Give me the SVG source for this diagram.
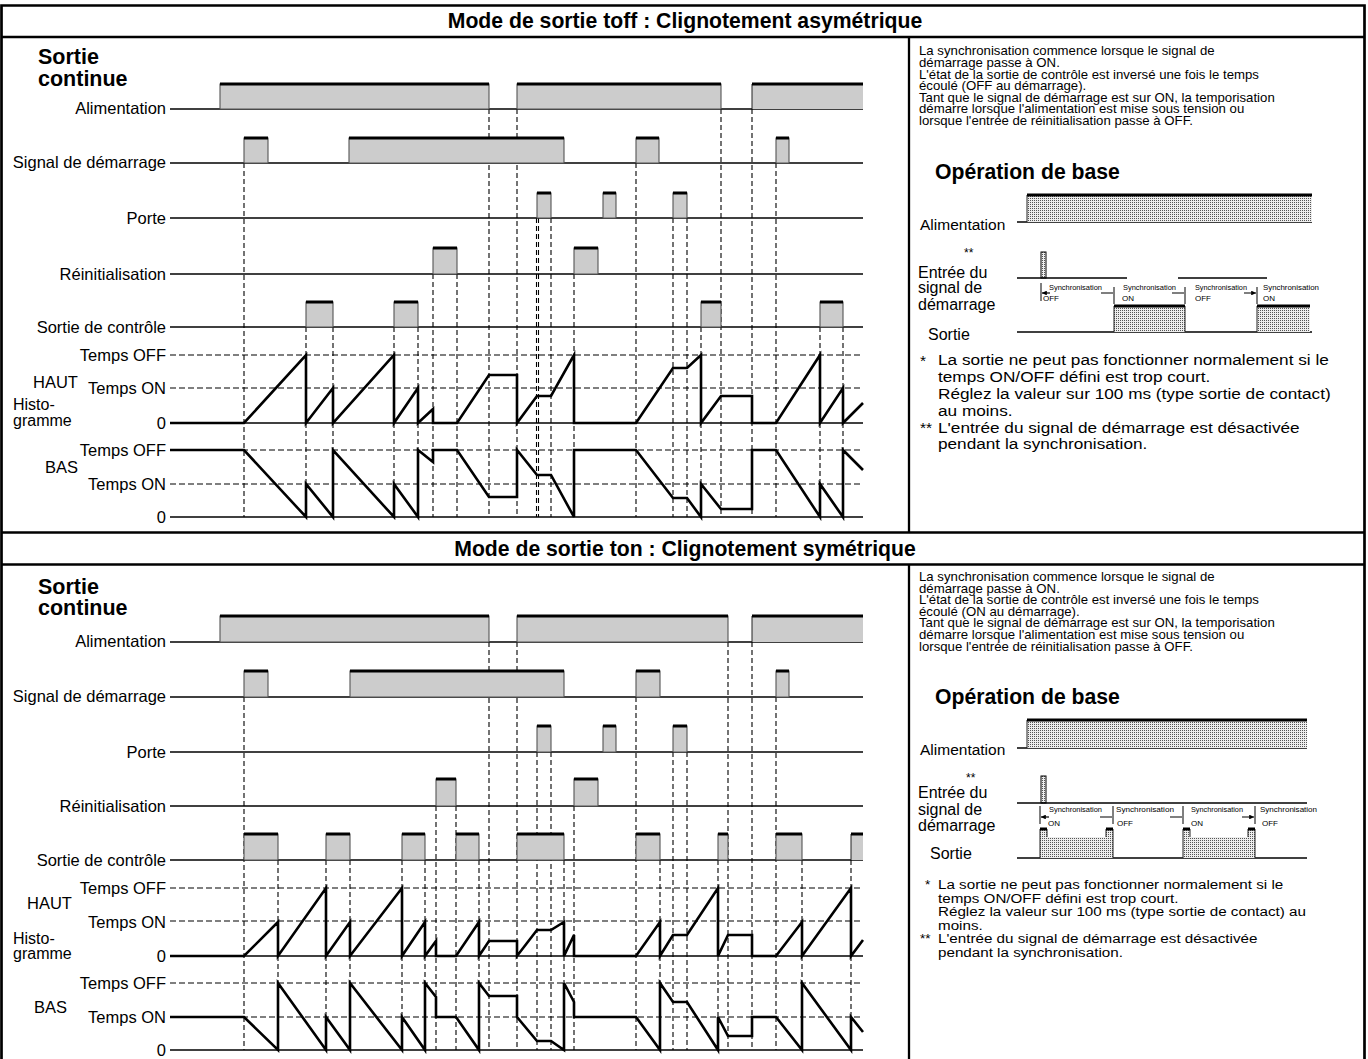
<svg xmlns="http://www.w3.org/2000/svg" width="1368" height="1059" viewBox="0 0 1368 1059">
<defs>
<style>
text{font-family:"Liberation Sans",Arial,Helvetica,sans-serif;fill:#000}
.t{font-size:21.2px;font-weight:bold;text-anchor:middle}
.h{font-size:21.5px;font-weight:bold}
.l{font-size:16.5px;text-anchor:end}
.ls{font-size:16.5px}
.hg{font-size:16px}
.para{font-size:12px}
.n1{font-size:15.5px}
.n2{font-size:13.5px}
.rl{font-size:16px}
.ra{font-size:15.5px}
.sy{font-size:8px}
.st{font-size:12px}
.fr{fill:none;stroke:#000;stroke-width:2.7}
.b{stroke:#000;stroke-width:1.5;fill:none}
.p{fill:#ccc;stroke:#555;stroke-width:1.1}
.pf{fill:#ccc;stroke:none}
.pt{stroke:#000;stroke-width:3;fill:none}
.vd{stroke:#000;stroke-width:1.1;stroke-dasharray:5 3;fill:none}
.hd{stroke:#000;stroke-width:1.1;stroke-dasharray:6 3;fill:none}
.w{stroke:#000;stroke-width:2.6;fill:none;stroke-linejoin:miter;stroke-miterlimit:4}
.dp{fill:url(#dots);stroke:none}
.ds{stroke:#222;stroke-width:1;fill:none}
.tk{stroke:#000;stroke-width:1;fill:none}
.ar{stroke:#000;stroke-width:1.2;fill:none;marker-end:url(#ah)}
</style>
<pattern id="dots" width="2" height="2" patternUnits="userSpaceOnUse"><rect width="2" height="2" fill="#eeeeee"/><rect width="1" height="1" fill="#555"/></pattern>
<marker id="ah" viewBox="0 0 6 6" refX="6" refY="3" markerWidth="4" markerHeight="4" orient="auto"><path d="M0,0L6,3L0,6Z" fill="#000"/></marker>
</defs>
<rect width="1368" height="1059" fill="#fff"/>

<g id="frame">
<path class="fr" d="M1.5,1059V5.5H1364.5V1059"/>
<path class="fr" d="M1.5,37H1364.5M1.5,532.5H1364.5M1.5,564.5H1364.5"/>
<path stroke="#000" stroke-width="2.3" d="M909,37V532.5M909,564.5V1059"/>
<text class="t" x="685" y="28">Mode de sortie toff : Clignotement asymétrique</text>
<text class="t" x="685" y="556">Mode de sortie ton : Clignotement symétrique</text>
</g>

<!-- ===== TOP SECTION ===== -->
<g id="top-heading">
<text class="h" x="38" y="64">Sortie</text>
<text class="h" x="38" y="86">continue</text>
</g>

<g id="connectors-top" class="vd">
<path d="M244,163V517M306,327V517M333,327V517M394,327V517M418,327V517M433,274V517M457,274V517M489,109V517M517,109V517M536.5,218V517M538.5,218V517M551,218V517M574,274V517M636,163V517M673,218V517M687,218V517M701,327V517M721,109V517M752,109V517M776,163V517M820,327V517M843,327V517"/>
</g>

<g id="top-alimentation">
<text class="l" x="166" y="114">Alimentation</text>
<path class="b" d="M170,109H863"/>
<path class="p" d="M220,109V84H489V109Z"/>
<path class="p" d="M517,109V84H721V109Z"/>
<path class="pf" d="M752,109V84H863V109Z"/>
<path class="ds" d="M752,109V84"/>
<path class="pt" d="M220,84H489M517,84H721M752,84H863"/>
</g>

<g id="top-start">
<text class="l" x="166" y="168">Signal de démarrage</text>
<path class="b" d="M170,163H863"/>
<path class="p" d="M244,163V138H268V163ZM349,163V138H564V163ZM636,163V138H659V163ZM776,163V138H789V163Z"/>
<path class="pt" d="M244,138H268M349,138H564M636,138H659M776,138H789"/>
</g>

<g id="top-porte">
<text class="l" x="166" y="224">Porte</text>
<path class="b" d="M170,218H863"/>
<path class="p" d="M537,218V193H551V218ZM603,218V193H616V218ZM673,218V193H687V218Z"/>
<path class="pt" d="M537,193H551M603,193H616M673,193H687"/>
</g>

<g id="top-reset">
<text class="l" x="166" y="280">Réinitialisation</text>
<path class="b" d="M170,274H863"/>
<path class="p" d="M433,274V248H457V274ZM574,274V248H598V274Z"/>
<path class="pt" d="M433,248H457M574,248H598"/>
</g>

<g id="top-control">
<text class="l" x="166" y="333">Sortie de contrôle</text>
<path class="b" d="M170,327H863"/>
<path class="p" d="M306,327V302H333V327ZM394,327V302H418V327ZM701,327V302H721V327ZM820,327V302H843V327Z"/>
<path class="pt" d="M306,302H333M394,302H418M701,302H721M820,302H843"/>
</g>

<g id="top-haut">
<text class="l" x="166" y="361">Temps OFF</text>
<text class="ls" x="33" y="388">HAUT</text>
<text class="l" x="166" y="394">Temps ON</text>
<text class="hg" x="13" y="409.5">Histo-</text>
<text class="hg" x="13" y="425.5">gramme</text>
<text class="l" x="166" y="429">0</text>
<path class="hd" d="M170,355H863M170,388H863"/>
<path class="b" d="M170,423H863"/>
<path class="w" d="M170,423H244L306,355V423L333,388V423L394,355V423L418,388V423L433,409V423H457L489,375H517V423L537,396H551L574,355V423H636L673,368H687L701,355V423L721,396H752V423H776L820,355V423L843,388V423L863,403"/>
</g>

<g id="top-bas">
<text class="l" x="166" y="456">Temps OFF</text>
<text class="ls" x="45" y="473">BAS</text>
<text class="l" x="166" y="490">Temps ON</text>
<text class="l" x="166" y="523">0</text>
<path class="hd" d="M170,450H863M170,484H863"/>
<path class="b" d="M170,517H863"/>
<path class="w" d="M170,450H244L306,517V484L333,517V450L394,517V484L418,517V450L433,462V450H457L489,497H517V450L537,475H551L574,517V450H636L673,498H687L701,517V484L721,509H752V450H776L820,517V484L843,517V450L863,470"/>
</g>

<g id="top-description">
<g class="para" transform="translate(919,0) scale(1.1,1)">
<text x="0" y="55.5">La synchronisation commence lorsque le signal de</text>
<text x="0" y="67.1">démarrage passe à ON.</text>
<text x="0" y="78.7">L'état de la sortie de contrôle est inversé une fois le temps</text>
<text x="0" y="90.3">écoulé (OFF au démarrage).</text>
<text x="0" y="101.9">Tant que le signal de démarrage est sur ON, la temporisation</text>
<text x="0" y="113.5">démarre lorsque l'alimentation est mise sous tension ou</text>
<text x="0" y="125.1">lorsque l'entrée de réinitialisation passe à OFF.</text>
</g>
<text class="h" x="935" y="178.5" style="font-size:21.2px">Opération de base</text>
</g>

<g id="top-basic-operation">
<text class="ra" x="920" y="230">Alimentation</text>
<path class="b" d="M1017,222H1312"/>
<rect class="dp" x="1027" y="195" width="285" height="27"/>
<path class="ds" d="M1027,222V195"/>
<path class="pt" d="M1027,195H1312"/>
<text class="st" x="964" y="257">**</text>
<text class="rl" x="918" y="277.5">Entrée du</text>
<text class="rl" x="918" y="293">signal de</text>
<text class="rl" x="918" y="310">démarrage</text>
<text class="rl" x="928" y="340">Sortie</text>
<rect x="1041" y="252" width="5" height="26" fill="url(#dots)" stroke="#000" stroke-width="1"/>
<path class="b" d="M1017,278H1127M1178,278H1267"/>
<path class="b" d="M1017,332H1312"/>
<rect class="dp" x="1114" y="306" width="71" height="26"/>
<rect class="dp" x="1257" y="306" width="53" height="26"/>
<path class="ds" d="M1114,332V306M1185,332V306M1257,332V306"/>
<path class="pt" d="M1114,306H1185M1257,306H1310"/>
<path class="tk" d="M1041,283V301M1114,287V304M1185,287V304M1257,287V304"/>
<path class="ar" d="M1101,293H1113M1172,293H1184M1244,293H1256"/>
<path class="ar" d="M1050,293H1042"/>
<text class="sy" x="1049" y="290" textLength="53" lengthAdjust="spacingAndGlyphs">Synchronisation</text>
<text class="sy" x="1123" y="290" textLength="53" lengthAdjust="spacingAndGlyphs">Synchronisation</text>
<text class="sy" x="1195" y="290" textLength="52" lengthAdjust="spacingAndGlyphs">Synchronisation</text>
<text class="sy" x="1263" y="290" textLength="56" lengthAdjust="spacingAndGlyphs">Synchronisation</text>
<text class="sy" x="1043" y="301">OFF</text>
<text class="sy" x="1122" y="301">ON</text>
<text class="sy" x="1195" y="301">OFF</text>
<text class="sy" x="1263" y="301">ON</text>
</g>

<g id="top-notes">
<text class="n1" x="920" y="365.5">*</text>
<text class="n1" x="920" y="432.7">**</text>
<g class="n1" transform="translate(938,0) scale(1.11,1)">
<text x="0" y="365.5">La sortie ne peut pas fonctionner normalement si le</text>
<text x="0" y="382.3">temps ON/OFF défini est trop court.</text>
<text x="0" y="399.1">Réglez la valeur sur 100 ms (type sortie de contact)</text>
<text x="0" y="415.9">au moins.</text>
<text x="0" y="432.7">L'entrée du signal de démarrage est désactivée</text>
<text x="0" y="449.5">pendant la synchronisation.</text>
</g>
</g>

<!-- ===== BOTTOM SECTION ===== -->
<g id="bottom-heading">
<text class="h" x="38" y="593.5">Sortie</text>
<text class="h" x="38" y="615">continue</text>
</g>

<g id="connectors-bottom" class="vd">
<path d="M244,697V1050M278,860V1050M326,860V1050M350,860V1050M402,860V1050M425,860V1050M436,806V1050M456,806V1050M479,860V1050M489,642V1050M517,642V1050M537,752V1050M551,752V1050M564,860V1050M574,806V1050M636,697V1050M660,860V1050M673,752V1050M687,752V1050M718,860V1050M728,642V1050M752,642V1050M776,697V1050M802,860V1050M851,860V1050"/>
</g>

<g id="bottom-alimentation">
<text class="l" x="166" y="647">Alimentation</text>
<path class="b" d="M170,642H863"/>
<path class="p" d="M220,642V616H489V642Z"/>
<path class="p" d="M517,642V616H728V642Z"/>
<path class="pf" d="M752,642V616H863V642Z"/>
<path class="ds" d="M752,642V616"/>
<path class="pt" d="M220,616H489M517,616H728M752,616H863"/>
</g>

<g id="bottom-start">
<text class="l" x="166" y="702">Signal de démarrage</text>
<path class="b" d="M170,697H863"/>
<path class="p" d="M244,697V671H268V697ZM350,697V671H564V697ZM636,697V671H660V697ZM776,697V671H789V697Z"/>
<path class="pt" d="M244,671H268M350,671H564M636,671H660M776,671H789"/>
</g>

<g id="bottom-porte">
<text class="l" x="166" y="758">Porte</text>
<path class="b" d="M170,752H863"/>
<path class="p" d="M537,752V726H551V752ZM603,752V726H616V752ZM673,752V726H687V752Z"/>
<path class="pt" d="M537,726H551M603,726H616M673,726H687"/>
</g>

<g id="bottom-reset">
<text class="l" x="166" y="812">Réinitialisation</text>
<path class="b" d="M170,806H863"/>
<path class="p" d="M436,806V779H456V806ZM574,806V779H598V806Z"/>
<path class="pt" d="M436,779H456M574,779H598"/>
</g>

<g id="bottom-control">
<text class="l" x="166" y="866">Sortie de contrôle</text>
<path class="b" d="M170,860H863"/>
<path class="p" d="M244,860V834H278V860ZM326,860V834H350V860ZM402,860V834H425V860ZM456,860V834H479V860ZM517,860V834H564V860ZM636,860V834H660V860ZM718,860V834H728V860ZM776,860V834H802V860Z"/>
<path class="pf" d="M851,860V834H863V860Z"/>
<path class="ds" d="M851,860V834"/>
<path class="pt" d="M244,834H278M326,834H350M402,834H425M456,834H479M517,834H564M636,834H660M718,834H728M776,834H802M851,834H863"/>
</g>

<g id="bottom-haut">
<text class="l" x="166" y="894">Temps OFF</text>
<text class="ls" x="27" y="909">HAUT</text>
<text class="l" x="166" y="928">Temps ON</text>
<text class="hg" x="13" y="944">Histo-</text>
<text class="hg" x="13" y="958.5">gramme</text>
<text class="l" x="166" y="962">0</text>
<path class="hd" d="M170,888H863M170,921H863"/>
<path class="b" d="M170,956H863"/>
<path class="w" d="M170,956H244L278,922V956L326,888V956L350,922V956L402,888V956L425,922V956L436,941V956H456L479,922V956L489,941H517V956L537,930H551L564,922V956L574,935V956H636L660,922V956L673,935H687L718,888V956L728,935H752V956H776L802,922V956L851,888V956L863,940"/>
</g>

<g id="bottom-bas">
<text class="l" x="166" y="989">Temps OFF</text>
<text class="ls" x="34" y="1012.5">BAS</text>
<text class="l" x="166" y="1023">Temps ON</text>
<text class="l" x="166" y="1056">0</text>
<path class="hd" d="M170,983H863M170,1017H863"/>
<path class="b" d="M170,1050H863"/>
<path class="w" d="M170,1017H244L278,1050V983L326,1050V1017L350,1050V983L402,1050V1017L425,1050V983L436,997V1017H456L479,1050V983L489,996H517V1017L537,1041H551L564,1050V983L574,1002V1017H636L660,1050V983L673,1002H687L718,1050V1017L728,1036H752V1017H776L802,1050V983L851,1050V1017L863,1032"/>
</g>

<g id="bottom-description">
<g class="para" transform="translate(919,0) scale(1.1,1)">
<text x="0" y="581">La synchronisation commence lorsque le signal de</text>
<text x="0" y="592.6">démarrage passe à ON.</text>
<text x="0" y="604.2">L'état de la sortie de contrôle est inversé une fois le temps</text>
<text x="0" y="615.8">écoulé (ON au démarrage).</text>
<text x="0" y="627.4">Tant que le signal de démarrage est sur ON, la temporisation</text>
<text x="0" y="639">démarre lorsque l'alimentation est mise sous tension ou</text>
<text x="0" y="650.6">lorsque l'entrée de réinitialisation passe à OFF.</text>
</g>
<text class="h" x="935" y="703.5" style="font-size:21.2px">Opération de base</text>
</g>

<g id="bottom-basic-operation">
<text class="ra" x="920" y="755">Alimentation</text>
<path class="b" d="M1017,748H1307"/>
<rect class="dp" x="1027" y="720" width="280" height="28"/>
<path class="ds" d="M1027,748V720"/>
<path class="pt" d="M1027,720H1307"/>
<text class="st" x="966" y="782">**</text>
<text class="rl" x="918" y="798">Entrée du</text>
<text class="rl" x="918" y="815">signal de</text>
<text class="rl" x="918" y="831">démarrage</text>
<text class="rl" x="930" y="859">Sortie</text>
<rect x="1041" y="776" width="5" height="27" fill="url(#dots)" stroke="#000" stroke-width="1"/>
<path class="b" d="M1017,803H1307"/>
<path class="b" d="M1017,858H1307"/>
<path class="dp" d="M1040,858V829H1047V837H1106V829H1113V858Z"/>
<path class="dp" d="M1183,858V829H1190V837H1248V829H1255V858Z"/>
<path class="ds" d="M1040,858V829M1113,858V829M1183,858V829M1255,858V829M1047,829V837M1106,829V837M1190,829V837M1248,829V837"/>
<path class="pt" d="M1040,829H1047M1106,829H1113M1183,829H1190M1248,829H1255"/>
<path class="tk" d="M1040,806V824M1113,806V824M1183,806V824M1255,806V824"/>
<path class="ar" d="M1100,817H1112M1170,817H1182M1242,817H1254"/>
<path class="ar" d="M1049,817H1041"/>
<text class="sy" x="1049" y="812" textLength="53" lengthAdjust="spacingAndGlyphs">Synchronisation</text>
<text class="sy" x="1116" y="812" textLength="58" lengthAdjust="spacingAndGlyphs">Synchronisation</text>
<text class="sy" x="1191" y="812" textLength="52" lengthAdjust="spacingAndGlyphs">Synchronisation</text>
<text class="sy" x="1260" y="812" textLength="57" lengthAdjust="spacingAndGlyphs">Synchronisation</text>
<text class="sy" x="1048" y="826">ON</text>
<text class="sy" x="1117" y="826">OFF</text>
<text class="sy" x="1191" y="826">ON</text>
<text class="sy" x="1262" y="826">OFF</text>
</g>

<g id="bottom-notes">
<text class="n2" x="925" y="889">*</text>
<text class="n2" x="920" y="943.4">**</text>
<g class="n2" transform="translate(938,0) scale(1.126,1)">
<text x="0" y="889">La sortie ne peut pas fonctionner normalement si le</text>
<text x="0" y="902.6">temps ON/OFF défini est trop court.</text>
<text x="0" y="916.2">Réglez la valeur sur 100 ms (type sortie de contact) au</text>
<text x="0" y="929.8">moins.</text>
<text x="0" y="943.4">L'entrée du signal de démarrage est désactivée</text>
<text x="0" y="957">pendant la synchronisation.</text>
</g>
</g>
</svg>
